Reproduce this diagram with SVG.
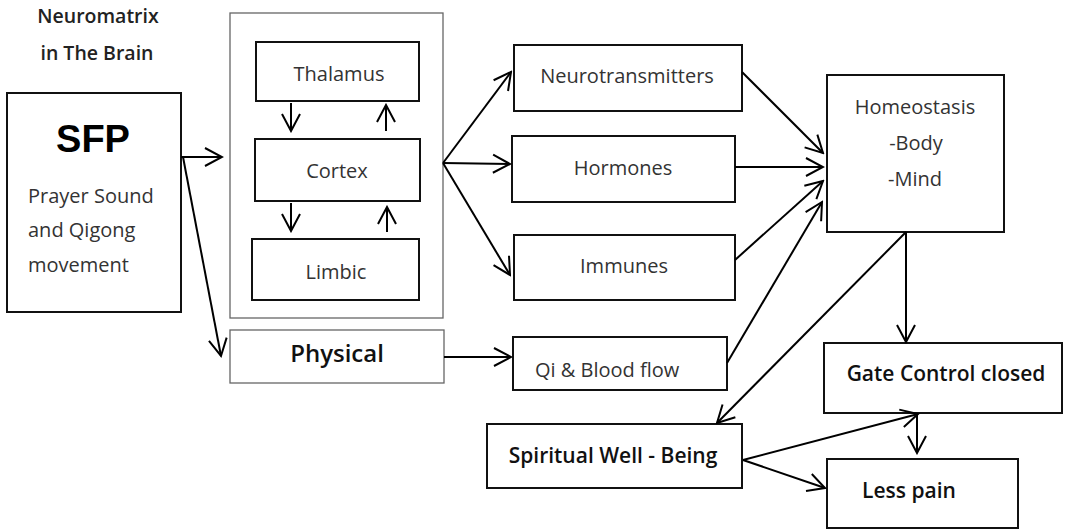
<svg xmlns="http://www.w3.org/2000/svg" width="1075" height="530" viewBox="0 0 1075 530">
<defs>
<style>
.box{fill:#fff;stroke:#111;stroke-width:2}
.thin{fill:#fff;stroke:#666;stroke-width:1.3}
.t{font-family:"Open Sans","Noto Sans",sans-serif;font-size:20px;fill:#333;text-anchor:middle}
.b{font-family:"Open Sans","Noto Sans",sans-serif;font-size:21px;font-weight:600;fill:#111;text-anchor:middle}
.c line{stroke:#000;stroke-width:2;marker-end:url(#ah)}
</style>
<marker id="ah" markerUnits="userSpaceOnUse" viewBox="0 0 20 22" markerWidth="20" markerHeight="22" refX="18" refY="11" orient="auto">
<path d="M1,2 L18,11 L1,20" fill="none" stroke="#000" stroke-width="2"/>
</marker>
</defs>
<rect width="1075" height="530" fill="#fff"/>
<g id="title">
<text class="b" x="98" y="23" style="font-size:19.5px;fill:#222">Neuromatrix</text>
<text class="b" x="97" y="60" style="font-size:19.5px;fill:#222">in The Brain</text>
</g>
<g id="sfp">
<rect class="box" x="7" y="93" width="174" height="219"/>
<text x="93" y="152" style="font-family:'Liberation Sans',Arial,sans-serif;font-size:38px;font-weight:bold;fill:#000;text-anchor:middle">SFP</text>
<text class="t" x="28" y="203" style="text-anchor:start">Prayer Sound</text>
<text class="t" x="28" y="237" style="text-anchor:start">and Qigong</text>
<text class="t" x="28" y="272" style="text-anchor:start">movement</text>
</g>
<g id="brain">
<rect class="thin" x="230" y="13" width="213" height="305"/>
</g>
<g id="thalamus">
<rect class="box" x="256" y="42" width="163" height="59"/>
<text class="t" x="339" y="81">Thalamus</text>
</g>
<g id="cortex">
<rect class="box" x="255" y="139" width="165" height="62"/>
<text class="t" x="337" y="178">Cortex</text>
</g>
<g id="limbic">
<rect class="box" x="252" y="239" width="167" height="61"/>
<text class="t" x="336" y="279">Limbic</text>
</g>
<g id="physical">
<rect class="thin" x="230" y="330" width="214" height="53"/>
<text class="b" x="337" y="362" style="font-size:24px">Physical</text>
</g>
<g id="neurotransmitters">
<rect class="box" x="514" y="45" width="228" height="66"/>
<text class="t" x="627" y="83">Neurotransmitters</text>
</g>
<g id="hormones">
<rect class="box" x="512" y="136" width="223" height="66"/>
<text class="t" x="623" y="175">Hormones</text>
</g>
<g id="immunes">
<rect class="box" x="514" y="235" width="221" height="65"/>
<text class="t" x="624" y="273">Immunes</text>
</g>
<g id="qi">
<rect class="box" x="513" y="337" width="214" height="53"/>
<text class="t" x="535" y="377" style="text-anchor:start">Qi &amp; Blood flow</text>
</g>
<g id="homeostasis">
<rect class="box" x="827" y="75" width="177" height="157"/>
<text class="t" x="915" y="114">Homeostasis</text>
<text class="t" x="916" y="150">-Body</text>
<text class="t" x="915" y="186">-Mind</text>
</g>
<g id="gate">
<rect class="box" x="824" y="343" width="238" height="70"/>
<text class="b" x="946" y="381">Gate Control closed</text>
</g>
<g id="spiritual">
<rect class="box" x="487" y="424" width="255" height="64"/>
<text class="b" x="613" y="463">Spiritual Well - Being</text>
</g>
<g id="lesspain">
<rect class="box" x="827" y="459" width="191" height="69"/>
<text class="b" x="909" y="498">Less pain</text>
</g>
<g id="connectors" class="c">
<line x1="181" y1="157" x2="222" y2="157"/>
<line x1="183" y1="157" x2="221" y2="356"/>
<line x1="291" y1="103" x2="291" y2="131"/>
<line x1="386" y1="131" x2="386" y2="105"/>
<line x1="291" y1="203" x2="291" y2="231"/>
<line x1="387" y1="232" x2="387" y2="207"/>
<line x1="443" y1="163" x2="511" y2="72"/>
<line x1="443" y1="163" x2="510" y2="164"/>
<line x1="443" y1="163" x2="510" y2="275"/>
<line x1="444" y1="357" x2="511" y2="357"/>
<line x1="742" y1="72" x2="823" y2="153"/>
<line x1="735" y1="167" x2="823" y2="167"/>
<line x1="735" y1="260" x2="823" y2="181"/>
<line x1="727" y1="363" x2="822" y2="202"/>
<line x1="906" y1="232" x2="906" y2="342"/>
<line x1="906" y1="232" x2="717" y2="423"/>
<line x1="743" y1="460" x2="918" y2="414"/>
<line x1="743" y1="460" x2="825" y2="488"/>
<line x1="917" y1="413" x2="917" y2="453"/>
</g>
</svg>
